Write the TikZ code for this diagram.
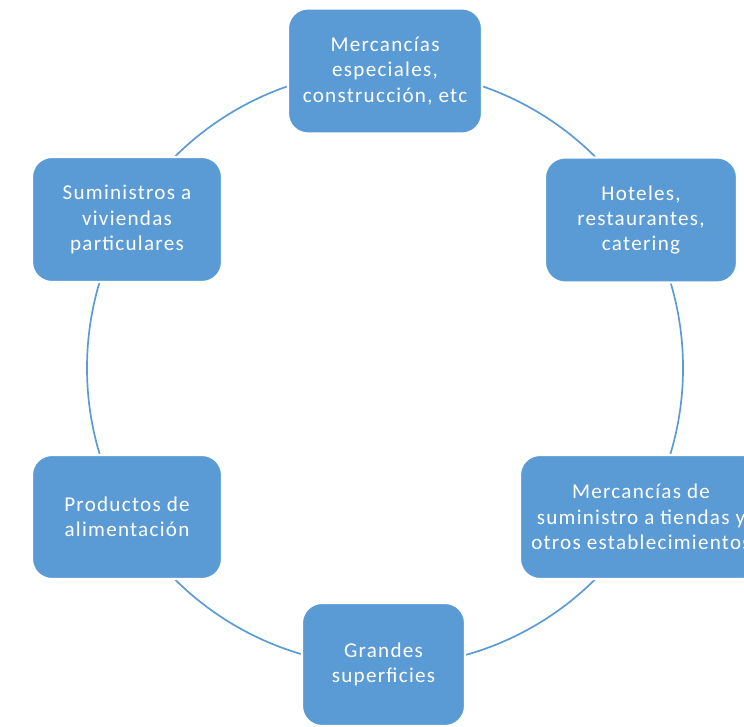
\documentclass[tikz,border=0pt]{standalone}
\usepackage{fontspec}
\setmainfont{Carlito}[LetterSpace=6]
\usepackage{tikz}
\definecolor{boxblue}{HTML}{5B9BD5}
\tikzset{
  stage/.style={rectangle, rounded corners=0.5cm, fill=boxblue, draw=white, line width=1.5pt,
    text=white, align=center, inner sep=0pt, font=\fontsize{15}{18}\selectfont},
  ring/.style={draw=boxblue, line width=1.2pt}
}

\begin{document}
\begin{tikzpicture}
\useasboundingbox (0,0) rectangle (18.6,18.15);
\coordinate (hub) at (9.625,8.95);
\draw[ring] (hub) circle (7.45);
\node[stage, minimum width=4.85cm, minimum height=3.125cm] (especiales) at (9.625,16.375) {Mercancías\\especiales,\\construcción, etc};
\node[stage, minimum width=4.8cm, minimum height=3.125cm] (hoteles) at (16.025,12.65) {Hoteles,\\restaurantes,\\catering};
\node[stage, minimum width=6.05cm, minimum height=3.1cm] (tiendas) at (16.025,5.225) {Mercancías de\\suministro a tiendas y\\otros establecimientos};
\node[stage, minimum width=4.075cm, minimum height=3.075cm] (grandes) at (9.5875,1.5375) {Grandes\\superficies};
\node[stage, minimum width=4.75cm, minimum height=3.1cm] (alimentacion) at (3.175,5.225) {Productos de\\alimentación};
\node[stage, minimum width=4.75cm, minimum height=3.125cm] (viviendas) at (3.175,12.6625) {Suministros a\\viviendas\\particulares};
\end{tikzpicture}
\end{document}
